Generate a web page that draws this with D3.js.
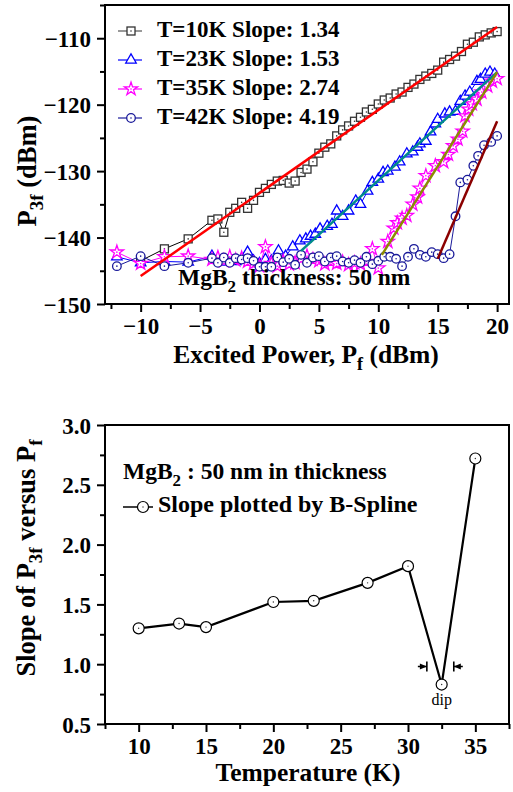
<!DOCTYPE html>
<html>
<head>
<meta charset="utf-8">
<script src="https://cdn.jsdelivr.net/npm/d3@7"></script>
<style>
body { margin: 0; background: #fff; }
svg text, svg tspan { font-family: "Liberation Serif", Tinos, "Times New Roman", Times, "DejaVu Serif", serif !important; font-weight: bold; fill: #000; }
.tick line { stroke: #000; stroke-width: 2; }
</style>
</head>
<body>
<svg id="chart" width="513" height="792"></svg>
<script>
// ---- top panel data: P3f (dBm) vs excited power Pf (dBm) ----
var p10 = [-10, -8, -6, -4, -3.5, -3, -2.5, -2, -1.5, -1, -0.5, 0, 0.5, 1, 1.5, 2, 2.5, 3, 3.5, 4, 4.5, 5, 5.5, 6, 6.5, 7, 7.5, 8, 8.5, 9, 9.5, 10, 10.5, 11, 11.5, 12, 12.5, 13, 13.5, 14, 14.5, 15, 15.5, 16, 16.5, 17, 17.5, 18, 18.5, 19, 19.5, 20];
var v10 = [-143.5, -141.7, -140.2, -137.4, -137.2, -139.2, -136.2, -135.6, -134.7, -135.6, -134.4, -133.2, -132.6, -132.0, -131.5, -131.4, -131.8, -131.5, -130.2, -129.7, -128.6, -127.3, -126.4, -125.9, -124.7, -123.8, -123.2, -122.5, -121.9, -121.1, -120.7, -119.9, -119.3, -119.0, -118.4, -118.1, -117.4, -116.9, -116.2, -115.7, -115.3, -114.8, -113.6, -113.2, -112.7, -112.0, -110.9, -110.6, -109.8, -109.5, -109.2, -109.0];

var p23 = [-12, -10, -8, -6, -4, -3.5, -3, -2.5, -2, -1.5, -1, -0.5, 0, 0.5, 1, 1.6, 2.2, 2.8, 3.4, 3.9, 4.3, 4.7, 5.1, 5.7, 6.1, 6.5, 7.0, 7.5, 8.1, 8.5, 9.1, 9.5, 10.0, 10.4, 10.8, 11.4, 11.8, 12.4, 12.9, 13.3, 13.5, 14.0, 14.4, 14.8, 15.0, 15.6, 16.0, 16.5, 16.9, 17.3, 17.7, 18.3, 18.6, 19.0, 19.4, 19.8];
var v23 = [-142.9, -143.8, -143.6, -143.7, -142.8, -143.4, -143.7, -143.3, -143.6, -143.2, -142.2, -143.5, -143.9, -143.3, -143.5, -142.0, -142.8, -141.4, -140.5, -140.2, -139.8, -139.5, -138.7, -138.3, -138.0, -136.0, -136.8, -136.0, -134.5, -135.0, -133.0, -131.7, -131.2, -130.2, -130.0, -129.4, -128.6, -127.4, -127.1, -126.4, -125.9, -125.5, -124.1, -122.9, -122.2, -121.4, -121.1, -121.0, -119.5, -118.7, -118.1, -116.5, -116.2, -115.4, -115.1, -115.4];

var p35 = [-12, -10, -8, -6, -4, -3.5, -3, -2.5, -2, -1.5, -1, -0.5, 0, 0.5, 1, 1.5, 2, 2.5, 3, 3.5, 4, 4.5, 5, 5.5, 6, 6.5, 7, 7.5, 8, 8.5, 9, 9.5, 10, 10.8, 11.3, 11.6, 12.0, 12.4, 12.9, 13.3, 13.5, 14.0, 14.8, 15.5, 15.9, 16.3, 16.7, 17.1, 17.3, 17.6, 17.9, 18.3, 18.7, 19.2, 19.6, 20.0];
var v35 = [-142.2, -143.9, -142.9, -142.8, -143.3, -143.0, -143.5, -142.9, -143.4, -143.1, -143.6, -143.9, -144.3, -141.4, -143.9, -144.3, -143.6, -144.0, -143.8, -143.2, -142.8, -143.3, -143.5, -144.0, -143.6, -143.9, -143.7, -144.1, -143.8, -144.0, -143.6, -141.7, -144.6, -140.6, -138.6, -137.8, -137.1, -136.7, -135.0, -133.9, -132.6, -130.7, -129.2, -128.6, -127.5, -126.2, -125.2, -124.0, -121.7, -120.7, -119.9, -119.2, -118.1, -117.2, -116.5, -116.1];

var p42 = [-12, -10, -8, -6, -4, -3.5, -3, -2.5, -2, -1.5, -1, -0.5, 0, 0.5, 1, 1.5, 2, 2.5, 3, 3.5, 4, 4.5, 5, 5.5, 6, 6.5, 7, 7.5, 8, 8.5, 9, 9.5, 10, 10.5, 11, 11.5, 12, 12.5, 13, 13.5, 14, 14.5, 15, 15.5, 16, 16.5, 16.9, 17.5, 18, 18.4, 18.9, 19.5, 20];
var v42 = [-144.3, -142.8, -144.3, -143.8, -143.1, -143.8, -143.0, -143.8, -143.1, -143.3, -143.1, -143.5, -144.4, -144.4, -144.4, -143.0, -143.7, -143.2, -144.1, -142.6, -143.8, -143.0, -142.8, -143.6, -143.0, -142.8, -143.6, -143.8, -143.4, -143.8, -142.9, -144.0, -143.5, -142.9, -142.9, -143.2, -144.3, -142.9, -141.7, -142.6, -142.9, -142.2, -142.5, -143.1, -142.5, -136.8, -131.7, -131.3, -129.2, -127.7, -126.1, -125.6, -124.7];

var temps = [10, 23, 35, 42];
var slopes = ["1.34", "1.53", "2.74", "4.19"];

// linear fits: start / end points
var fitP0 = [-10, 3.5, 10.3, 15.0];
var fitV0 = [-145.8, -142.0, -142.6, -143.2];
var fitP1 = [20, 20, 20, 20];
var fitV1 = [-108.3, -115.1, -115.1, -122.5];

var topXTicks = [-10, -5, 0, 5, 10, 15, 20];
var topXMinor = [-12.5, -7.5, -2.5, 2.5, 7.5, 12.5, 17.5];
var topYTicks = [-150, -140, -130, -120, -110];
var topYMinor = [-145, -135, -125, -115, -105];

// ---- bottom panel data: slope vs temperature ----
var tempK = [10, 13, 15, 20, 23, 27, 30, 32.5, 35];
var slopeVals = [1.30, 1.34, 1.31, 1.52, 1.53, 1.68, 1.82, 0.83, 2.72];
var dipRange = [31.4, 33.4];

var botXTicks = [10, 15, 20, 25, 30, 35];
var botXMinor = [7.5, 12.5, 17.5, 22.5, 27.5, 32.5, 37.5];
var botYTicks = [0.5, 1.0, 1.5, 2.0, 2.5, 3.0];
var botYMinor = [0.75, 1.25, 1.75, 2.25, 2.75];

// styles
var shapes = ["square", "triangle", "star", "circle"];
var colors = ["#333333", "#0000ff", "#ff00ff", "#1a1a9a"];
var lineColors = ["#000000", "#0000ff", "#ff00ff", "#1a1a9a"];
var fitColors = ["#ff0000", "#008b8b", "#8b8b00", "#8b0000"];

var svg = d3.select("#chart");

var x1 = d3.scaleLinear().domain([-13, 21]).range([105, 509]);
var y1 = d3.scaleLinear().domain([-150, -105]).range([304, 5]);
var x2 = d3.scaleLinear().domain([7.5, 37.5]).range([105, 509]);
var y2 = d3.scaleLinear().domain([0.5, 3.0]).range([724, 425]);

function drawAxes(x, y, xt, xm, yt, ym, fmtX, fmtY) {
  var yb = y.range()[0], xl = x.range()[0];
  var g = svg.append("g");

  var gx = g.append("g").attr("transform", "translate(0," + yb + ")")
    .call(d3.axisBottom(x).tickValues(xt).tickSize(8).tickSizeOuter(0).tickFormat(fmtX));
  gx.selectAll("text").attr("y", 30).attr("dy", 0).style("font-size", "23px");
  g.append("g").attr("transform", "translate(0," + yb + ")")
    .call(d3.axisBottom(x).tickValues(xm).tickSize(5).tickSizeOuter(0).tickFormat(""));

  var gy = g.append("g").attr("transform", "translate(" + xl + ",0)")
    .call(d3.axisLeft(y).tickValues(yt).tickSize(8).tickPadding(6).tickSizeOuter(0).tickFormat(fmtY));
  gy.selectAll("text").attr("dy", "0.35em").style("font-size", "23px");
  g.append("g").attr("transform", "translate(" + xl + ",0)")
    .call(d3.axisLeft(y).tickValues(ym).tickSize(5).tickSizeOuter(0).tickFormat(""));

  g.selectAll(".domain").remove();
  g.selectAll("g").attr("font-family", null);

  // frame
  svg.append("rect")
    .attr("x", x.range()[0]).attr("y", y.range()[1])
    .attr("width", x.range()[1] - x.range()[0])
    .attr("height", y.range()[0] - y.range()[1])
    .attr("fill", "none").attr("stroke", "#000").attr("stroke-width", 2);
}

// text with subscripts: parts = [[string, isSub], ...]
function richText(g, parts, size) {
  var t = g.append("text").style("font-size", size + "px");
  var shifted = false;
  parts.forEach(function(p) {
    var ts = t.append("tspan").text(p[0]);
    if (p[1]) {
      ts.style("font-size", Math.round(size * 0.72) + "px").attr("dy", shifted ? 0 : size * 0.28);
      shifted = true;
    } else {
      if (shifted) ts.attr("dy", -size * 0.28);
      shifted = false;
    }
  });
  return t;
}

function marker(g, shape, cx, cy, color) {
  if (shape === "square") {
    g.append("rect").attr("x", cx - 4).attr("y", cy - 4).attr("width", 8).attr("height", 8)
      .attr("fill", "#fff").attr("stroke", color).attr("stroke-width", 1.3);
  } else if (shape === "triangle") {
    g.append("path").attr("d", d3.symbol().type(d3.symbolTriangle).size(48)())
      .attr("transform", "translate(" + cx + "," + cy + ")")
      .attr("fill", "#fff").attr("stroke", color).attr("stroke-width", 1.3);
  } else if (shape === "star") {
    g.append("path").attr("d", d3.symbol().type(d3.symbolStar).size(55)())
      .attr("transform", "translate(" + cx + "," + cy + ")")
      .attr("fill", "#fff").attr("stroke", color).attr("stroke-width", 1.3);
  } else {
    g.append("circle").attr("cx", cx).attr("cy", cy).attr("r", 4.3)
      .attr("fill", "#fff").attr("stroke", color).attr("stroke-width", 1.3);
  }
  if (shape !== "triangle") {
    g.append("circle").attr("cx", cx).attr("cy", cy).attr("r", 0.8).attr("fill", color);
  }
}

// ================= top panel =================
drawAxes(x1, y1, topXTicks, topXMinor, topYTicks, topYMinor, d3.format("d"), d3.format("d"));

var seriesP = [p10, p23, p35, p42];
var seriesV = [v10, v23, v35, v42];

var plot1 = svg.append("g");
seriesP.forEach(function(ps, i) {
  var pts = ps.map(function(p, j) { return [p, seriesV[i][j]]; });
  var line = d3.line().x(function(d) { return x1(d[0]); }).y(function(d) { return y1(d[1]); });
  plot1.append("path").datum(pts).attr("d", line)
    .attr("fill", "none").attr("stroke", lineColors[i]).attr("stroke-width", 1);
  var mg = plot1.append("g");
  pts.forEach(function(d) { marker(mg, shapes[i], x1(d[0]), y1(d[1]), colors[i]); });
});

// fit lines
fitP0.forEach(function(p, i) {
  plot1.append("line")
    .attr("x1", x1(p)).attr("y1", y1(fitV0[i]))
    .attr("x2", x1(fitP1[i])).attr("y2", y1(fitV1[i]))
    .attr("stroke", fitColors[i]).attr("stroke-width", 2.5);
});

// legend
var leg1 = svg.append("g");
temps.forEach(function(t, i) {
  var yb = 37 + i * 29;
  leg1.append("line").attr("x1", 118).attr("x2", 142).attr("y1", yb - 6).attr("y2", yb - 6)
    .attr("stroke", i === 0 ? "#555" : lineColors[i]).attr("stroke-width", 1.2);
  marker(leg1, shapes[i], 131, yb - 6, colors[i]);
  leg1.append("text").attr("x", 157).attr("y", yb).style("font-size", "23px")
    .text("T=" + t + "K Slope: " + slopes[i]);
});

richText(svg, [["MgB", false], ["2", true], [" thickness: 50 nm", false]], 23.5)
  .attr("x", 178).attr("y", 285);

richText(svg, [["Excited Power, P", false], ["f", true], [" (dBm)", false]], 25.5)
  .attr("x", 306).attr("y", 363).attr("text-anchor", "middle");

richText(svg, [["P", false], ["3f", true], [" (dBm)", false]], 26.5)
  .attr("text-anchor", "middle").attr("transform", "translate(36,171) rotate(-90)");

// ================= bottom panel =================
drawAxes(x2, y2, botXTicks, botXMinor, botYTicks, botYMinor, d3.format("d"), d3.format(".1f"));

var pts2 = tempK.map(function(t, j) { return [t, slopeVals[j]]; });
var plot2 = svg.append("g");
plot2.append("path").datum(pts2)
  .attr("d", d3.line().x(function(d) { return x2(d[0]); }).y(function(d) { return y2(d[1]); }))
  .attr("fill", "none").attr("stroke", "#000").attr("stroke-width", 2.2);
pts2.forEach(function(d) {
  plot2.append("circle").attr("cx", x2(d[0])).attr("cy", y2(d[1])).attr("r", 5.5)
    .attr("fill", "#fff").attr("stroke", "#000").attr("stroke-width", 1.2);
  plot2.append("circle").attr("cx", x2(d[0])).attr("cy", y2(d[1])).attr("r", 0.7).attr("fill", "#333");
});

// dip annotation: bar-and-arrow marks either side of the dip
var dipY = y2(slopeVals[7]) - 18;
var xa = x2(dipRange[0]), xb = x2(dipRange[1]);
[[xa, -1], [xb, 1]].forEach(function(m) {
  var bx = m[0], s = m[1];
  plot2.append("path")
    .attr("d", "M" + (bx + s * 9) + "," + dipY + "H" + bx + "M" + bx + "," + (dipY - 5) + "V" + (dipY + 5))
    .attr("stroke", "#000").attr("stroke-width", 1.6).attr("fill", "none");
  plot2.append("path")
    .attr("d", "M" + (bx + s * 7) + "," + (dipY - 3) + "L" + bx + "," + dipY + "L" + (bx + s * 7) + "," + (dipY + 3) + "Z")
    .attr("fill", "#000");
});
plot2.append("text").attr("x", x2(tempK[7])).attr("y", y2(slopeVals[7]) + 20)
  .attr("text-anchor", "middle").style("font-size", "16px").style("font-weight", "normal")
  .text("dip");

// legend / note
richText(svg, [["MgB", false], ["2", true], [" : 50 nm in thickness", false]], 23.5)
  .attr("x", 123).attr("y", 479);
svg.append("line").attr("x1", 123).attr("x2", 153).attr("y1", 507).attr("y2", 507)
  .attr("stroke", "#000").attr("stroke-width", 1.5);
svg.append("circle").attr("cx", 143).attr("cy", 507).attr("r", 5.5)
  .attr("fill", "#fff").attr("stroke", "#000").attr("stroke-width", 1.2);
svg.append("circle").attr("cx", 143).attr("cy", 507).attr("r", 0.7).attr("fill", "#333");
svg.append("text").attr("x", 158).attr("y", 512).style("font-size", "24px")
  .text("Slope plotted by B-Spline");

richText(svg, [["Temperature (K)", false]], 25.5)
  .attr("x", 308).attr("y", 781).attr("text-anchor", "middle");

richText(svg, [["Slope of P", false], ["3f", true], [" versus P", false], ["f", true]], 26.5)
  .attr("text-anchor", "middle").attr("transform", "translate(35,558) rotate(-90)");
</script>
</body>
</html>
